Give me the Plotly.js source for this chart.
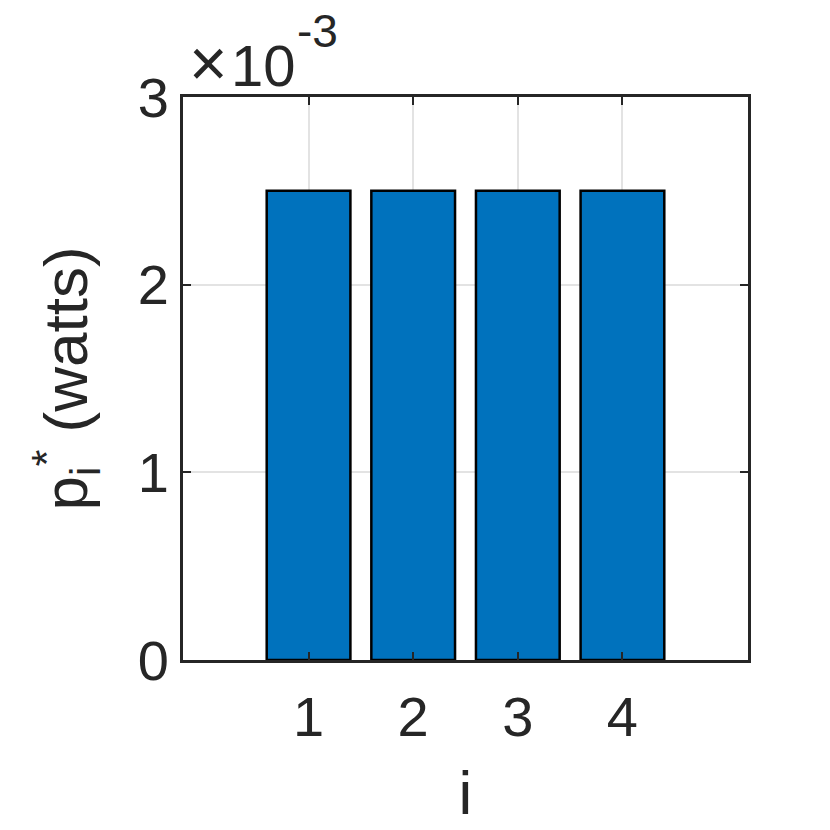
<!DOCTYPE html>
<html>
<head>
<meta charset="utf-8">
<script src="https://cdn.plot.ly/plotly-3.0.1.min.js"></script>
<style>html,body{margin:0;padding:0;background:#fff;}#chart{width:830px;height:830px;}</style>
</head>
<body>
<div id="chart"></div>
<script>
const categories = [1, 2, 3, 4];
const powerValues = [0.0025, 0.0025, 0.0025, 0.0025];
const yTickVals = [0, 0.001, 0.002, 0.003];
const yTickText = ["0", "1", "2", "3"];
const exponentSign = "×";
const exponentBase = "10";
const exponentPower = "-3";

const FONT = "Liberation Sans, Arial, Helvetica, sans-serif";
const axisColor = "#262626";

const trace = {
  type: "bar",
  x: categories,
  y: powerValues,
  width: 0.8,
  marker: { color: "#0072BD", line: { color: "#000000", width: 2.5 } },
  hoverinfo: "skip"
};

function note(text, size, xshift, yshift) {
  return {
    xref: "paper", yref: "paper",
    x: 0, y: 1,
    xanchor: "left", yanchor: "bottom",
    xshift: xshift, yshift: yshift,
    showarrow: false,
    text: text,
    font: { family: FONT, size: size, color: axisColor }
  };
}

const layout = {
  width: 830,
  height: 830,
  margin: { l: 183, r: 82, t: 97, b: 170 },
  paper_bgcolor: "#ffffff",
  plot_bgcolor: "#ffffff",
  showlegend: false,
  font: { family: FONT, color: axisColor, size: 56 },
  xaxis: {
    range: [-0.2, 5.2],
    tickvals: categories,
    ticktext: categories.map(String),
    ticks: "inside",
    ticklen: 8,
    tickwidth: 2,
    tickcolor: axisColor,
    ticklabelstandoff: 6,
    showline: true,
    linecolor: axisColor,
    linewidth: 3,
    mirror: "ticks",
    showgrid: true,
    gridcolor: "#e3e3e3",
    gridwidth: 2,
    zeroline: false,
    automargin: false,
    tickfont: { family: FONT, size: 56, color: axisColor },
    title: { text: "i", font: { family: FONT, size: 62, color: axisColor }, standoff: 24 }
  },
  yaxis: {
    range: [0, 0.003],
    tickvals: yTickVals,
    ticktext: yTickText,
    ticks: "inside",
    ticklen: 8,
    tickwidth: 2,
    tickcolor: axisColor,
    showline: true,
    linecolor: axisColor,
    linewidth: 3,
    mirror: "ticks",
    showgrid: true,
    gridcolor: "#e3e3e3",
    gridwidth: 2,
    zeroline: false,
    automargin: false,
    tickfont: { family: FONT, size: 56, color: axisColor },
    title: { text: "p<sub>i</sub><sup>*</sup> (watts)", font: { family: FONT, size: 62, color: axisColor }, standoff: 30 }
  },
  annotations: [
    note(exponentSign, 66, 4, -5),
    note(exponentBase, 58, 46, -3),
    note(exponentPower, 46, 112, 38)
  ]
};

Plotly.newPlot("chart", [trace], layout, { displayModeBar: false, staticPlot: true });
</script>
</body>
</html>
